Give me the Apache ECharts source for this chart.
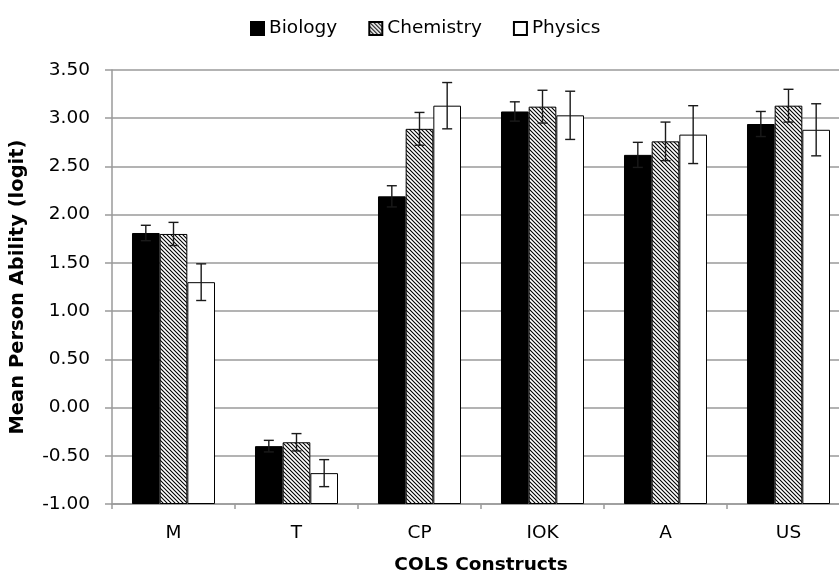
<!DOCTYPE html>
<html>
<head>
<meta charset="utf-8">
<script src="https://cdn.jsdelivr.net/npm/echarts@6/dist/echarts.min.js"></script>
<style>
  html, body { margin: 0; padding: 0; background: #fff; }
  #c_container { width: 839px; height: 575px; }
</style>
</head>
<body>
<div id="c_container"></div>
<script>
var categories = ["M", "T", "CP", "IOK", "A", "US"];
var seriesNames = ["Biology", "Chemistry", "Physics"];
var biology = [1.81, -0.40, 2.19, 3.07, 2.62, 2.94];
var chemistry = [1.80, -0.36, 2.89, 3.12, 2.76, 3.13];
var physics = [1.30, -0.68, 3.13, 3.03, 2.83, 2.88];
var biologyErr = [0.08, 0.06, 0.11, 0.10, 0.13, 0.13];
var chemistryErr = [0.12, 0.09, 0.17, 0.17, 0.20, 0.17];
var physicsErr = [0.19, 0.14, 0.24, 0.25, 0.30, 0.27];
var yMin = -1.0;
var yMax = 3.5;
var yStep = 0.5;

var font_family = "'DejaVu Sans', 'Liberation Sans', Arial, sans-serif";
var font_size = 18.5;
var axis_grey = "#9a9a9a";

// bars in the original grow up from the axis bottom (-1.00), not from 0,
// so everything is drawn shifted by yMin and the labels shift it back
function shift(v) {
  return +(v - yMin).toFixed(4);
}

// hatch tile for Chemistry (\\\ lines)
function makeHatch() {
  var c = document.createElement("canvas");
  c.width = 4;
  c.height = 4;
  var ctx = c.getContext("2d");
  ctx.fillStyle = "#fff";
  ctx.fillRect(0, 0, 4, 4);
  ctx.strokeStyle = "#000";
  ctx.lineWidth = 1.1;
  ctx.beginPath();
  ctx.moveTo(-1, -1); ctx.lineTo(5, 5);
  ctx.moveTo(-1, 3); ctx.lineTo(1, 5);
  ctx.moveTo(3, -1); ctx.lineTo(5, 1);
  ctx.stroke();
  return c;
}
var hatch = { image: makeHatch(), repeat: "repeat" };

var valuesList = [biology, chemistry, physics];
var errList = [biologyErr, chemistryErr, physicsErr];
var fills = ["#000", hatch, "#fff"];

var errData = [];
for (var s = 0; s < 3; s++) {
  for (var k = 0; k < categories.length; k++) {
    errData.push([k, shift(valuesList[s][k]), errList[s][k], s]);
  }
}

var myChart = echarts.init(document.getElementById("c_container"));

var series = [];
for (var i = 0; i < 3; i++) {
  series.push({
    name: seriesNames[i],
    type: "bar",
    barWidth: "22.5%",
    barGap: "0%",
    itemStyle: {
      color: fills[i],
      borderColor: "#000",
      borderWidth: 1,
    },
    emphasis: { disabled: true },
    data: valuesList[i].map(shift),
  });
}

series.push({
  name: "err",
  type: "custom",
  z: 10,
  silent: true,
  data: errData,
  renderItem: function (params, api) {
    var idx = api.value(0);
    var val = api.value(1);
    var err = api.value(2);
    var s = api.value(3);
    var bw = api.size([1, 0])[0] * 0.225;
    var center = api.coord([idx, val]);
    var x = center[0] + (s - 1) * bw;
    var top = api.coord([idx, val + err])[1];
    var bot = api.coord([idx, val - err])[1];
    var cap = 5;
    var style = { stroke: "#1a1a1a", lineWidth: 1.4 };
    return {
      type: "group",
      children: [
        { type: "line", shape: { x1: x, y1: top, x2: x, y2: bot }, style: style },
        { type: "line", shape: { x1: x - cap, y1: top, x2: x + cap, y2: top }, style: style },
        { type: "line", shape: { x1: x - cap, y1: bot, x2: x + cap, y2: bot }, style: style },
      ],
    };
  },
});

myChart.setOption({
  animation: false,
  textStyle: { fontFamily: font_family },
  legend: {
    data: seriesNames,
    left: 245,
    top: 14,
    itemWidth: 13,
    itemHeight: 13,
    itemGap: 31,
    icon: "rect",
    textStyle: { color: "#000", fontSize: font_size, fontFamily: font_family },
  },
  grid: { left: 112, right: -11, top: 70, bottom: 71, outerBoundsMode: "none", containLabel: false },
  xAxis: {
    type: "category",
    data: categories,
    name: "COLS Constructs",
    nameLocation: "middle",
    nameGap: 52,
    nameTextStyle: { color: "#000", fontSize: font_size, fontWeight: "bold", fontFamily: font_family },
    axisLine: { onZero: false, lineStyle: { color: axis_grey, width: 1.5 } },
    axisTick: { show: true, length: 5, lineStyle: { color: axis_grey, width: 1.5 } },
    axisLabel: { color: "#000", fontSize: font_size, margin: 20, fontFamily: font_family },
    splitLine: { show: false },
  },
  yAxis: {
    type: "value",
    min: 0,
    max: shift(yMax),
    interval: yStep,
    name: "Mean Person Ability (logit)",
    nameLocation: "middle",
    nameGap: 84,
    nameTextStyle: { color: "#000", fontSize: 19.5, fontWeight: "bold", fontFamily: font_family },
    axisLine: { show: true, lineStyle: { color: axis_grey, width: 1.5 } },
    axisTick: { show: true, length: 7, lineStyle: { color: axis_grey, width: 1.5 } },
    axisLabel: {
      color: "#000",
      fontSize: font_size,
      margin: 22,
      fontFamily: font_family,
      formatter: function (v) { return (v + yMin).toFixed(2); },
    },
    splitLine: { show: true, lineStyle: { color: axis_grey, width: 1.5 } },
  },
  series: series,
});
</script>
</body>
</html>
